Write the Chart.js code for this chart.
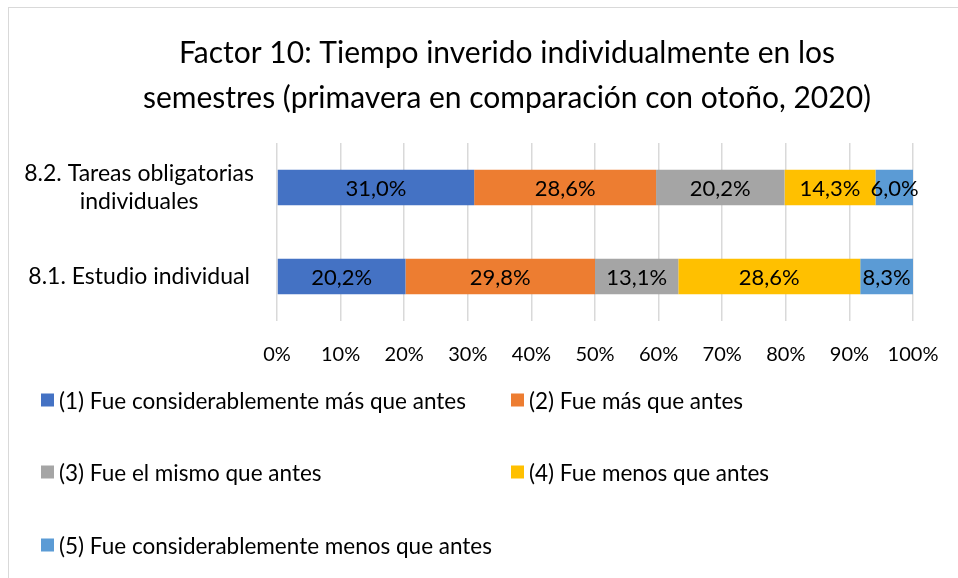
<!DOCTYPE html>
<html>
<head>
<meta charset="utf-8">
<script src="https://cdn.jsdelivr.net/npm/chart.js@4.4.1/dist/chart.umd.min.js"></script>
<style>
  html, body { margin: 0; padding: 0; background: #fff; overflow: hidden; }
  #wrap { position: relative; width: 958px; height: 578px; overflow: hidden; }
  #frame { position: absolute; left: 8px; top: 7px; width: 1100px; height: 700px; border: 1px solid #D9D9D9; box-sizing: border-box; }
  #c { position: absolute; left: 0; top: 0; }
  #legend { position: absolute; left: 0; top: 0; width: 958px; height: 578px; pointer-events: none;
            font-family: Lato, 'Open Sans', sans-serif; font-size: 22.5px; color: #000; }
  .li { position: absolute; display: flex; align-items: center; white-space: nowrap; transform: translateY(-50%); }
  .sw { width: 13px; height: 13px; margin-right: 5px; flex: none; }
</style>
</head>
<body>
<div id="wrap">
  <div id="frame"></div>
  <canvas id="c" width="958" height="578"></canvas>
  <div id="legend"></div>
</div>
<script>
// ---- data ----
const titleLines = ['Factor 10: Tiempo inverido individualmente en los', 'semestres (primavera en comparación con otoño, 2020)'];
const categories = [['8.2. Tareas obligatorias', 'individuales'], '8.1. Estudio individual'];
const seriesNames = [
  '(1) Fue considerablemente más que antes',
  '(2) Fue más que antes',
  '(3) Fue el mismo que antes',
  '(4) Fue menos que antes',
  '(5) Fue considerablemente menos que antes'
];
const s1 = [31.0, 20.2];
const s2 = [28.6, 29.8];
const s3 = [20.2, 13.1];
const s4 = [14.3, 28.6];
const s5 = [6.0, 8.3];
const seriesColors = ['#4472C4', '#ED7D31', '#A5A5A5', '#FFC000', '#5B9BD5'];
const xTicks = [0, 10, 20, 30, 40, 50, 60, 70, 80, 90, 100];

const FONT = 'Lato';

const dataLabels = {
  id: 'dataLabels',
  afterDatasetsDraw(chart) {
    const ctx = chart.ctx;
    ctx.save();
    ctx.font = '22px ' + FONT;
    ctx.fillStyle = '#000';
    ctx.textAlign = 'center';
    ctx.textBaseline = 'middle';
    chart.data.datasets.forEach((ds, di) => {
      const meta = chart.getDatasetMeta(di);
      meta.data.forEach((el, i) => {
        const p = el.getProps(['x', 'base', 'y'], true);
        const txt = ds.data[i].toFixed(1).replace('.', ',') + '%';
        ctx.fillText(txt, (p.x + p.base) / 2, p.y + 1);
      });
    });
    ctx.restore();
  }
};

// Centre the title over the whole (wider, cropped) chart frame, as in the source
const titleShift = {
  id: 'titleShift',
  afterLayout(chart) {
    if (chart.titleBlock) chart.titleBlock.left += 101;
  }
};

function build() {
  const allSeries = [s1, s2, s3, s4, s5];
  const datasets = allSeries.map((d, i) => ({
    label: seriesNames[i],
    data: d,
    backgroundColor: seriesColors[i],
    borderWidth: 0,
    barPercentage: 0.4,
    categoryPercentage: 1.0
  }));

  const chart = new Chart(document.getElementById('c'), {
    type: 'bar',
    data: { labels: categories, datasets },
    options: {
      responsive: false,
      animation: false,
      indexAxis: 'y',
      layout: { padding: { left: 0, right: 45, top: 0, bottom: 217 } },
      plugins: {
        legend: { display: false },
        tooltip: { enabled: false },
        title: {
          display: true,
          text: titleLines,
          color: '#000',
          font: { family: FONT, size: 30, weight: 'normal', lineHeight: 1.5 },
          padding: { top: 31, bottom: 22 }
        }
      },
      scales: {
        x: {
          stacked: true,
          min: 0, max: 100,
          afterBuildTicks(scale) { scale.ticks = xTicks.map(v => ({ value: v })); },
          afterFit(scale) { scale.height = 40; scale.paddingRight = 0; scale.paddingLeft = 0; },
          ticks: {
            callback: v => v + '%',
            color: '#000',
            font: { family: FONT, size: 20 },
            padding: 22,
            maxRotation: 0
          },
          grid: { color: '#D9D9D9', lineWidth: 1.5, drawTicks: false },
          border: { display: false }
        },
        y: {
          stacked: true,
          afterFit(scale) { scale.width = 277; },
          ticks: {
            color: '#000',
            font: { family: FONT, size: 23, lineHeight: 1.25 },
            crossAlign: 'center',
            padding: 23
          },
          grid: { display: false, drawTicks: false },
          border: { display: false }
        }
      }
    },
    plugins: [dataLabels, titleShift]
  });

  // HTML legend generated from the chart's datasets
  const leg = document.getElementById('legend');
  const colX = [41, 511];
  const rowY = [400, 472, 545];
  chart.data.datasets.forEach((ds, i) => {
    const item = document.createElement('div');
    item.className = 'li';
    item.style.left = colX[i % 2] + 'px';
    item.style.top = rowY[Math.floor(i / 2)] + 'px';
    const sw = document.createElement('span');
    sw.className = 'sw';
    sw.style.background = ds.backgroundColor;
    const t = document.createElement('span');
    t.textContent = ds.label;
    item.appendChild(sw);
    item.appendChild(t);
    leg.appendChild(item);
  });
}

(document.fonts && document.fonts.load ? document.fonts.load('20px ' + FONT) : Promise.resolve()).then(build, build);
</script>
</body>
</html>
